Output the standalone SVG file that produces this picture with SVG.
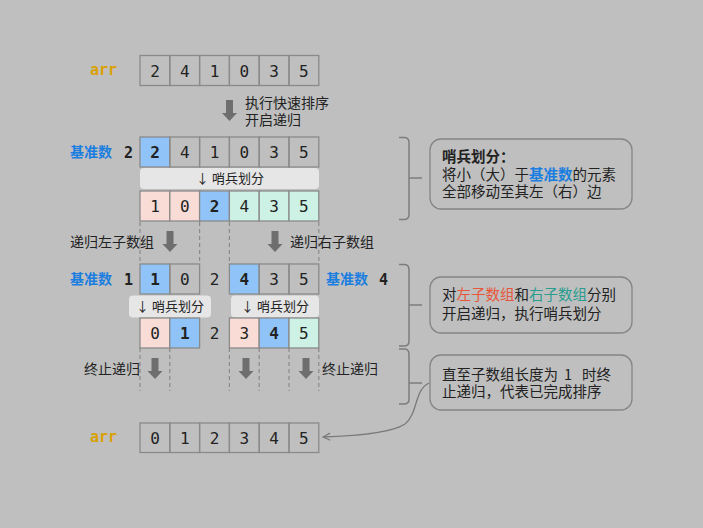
<svg xmlns="http://www.w3.org/2000/svg" width="703" height="528" viewBox="0 0 703 528">
<defs>
<style>
.bg{fill:#bfbfbf}
.c{fill:none;stroke:#8a8a8a;stroke-width:1.3}
.cb{fill:#90c4f8;stroke:#8a8a8a;stroke-width:1.3}
.cp{fill:#f9dcd6;stroke:#8a8a8a;stroke-width:1.3}
.cm{fill:#cdf1e5;stroke:#8a8a8a;stroke-width:1.3}
.n{font-family:"DejaVu Sans Mono","Liberation Mono",monospace;font-size:16px;fill:#222;text-anchor:middle}
.nb{font-weight:bold}
.arr{font-family:"DejaVu Sans Mono","Liberation Mono",monospace;font-size:15px;font-weight:bold;fill:#d9a100}
.t{font-family:"Noto Sans CJK SC","Noto Sans",sans-serif;font-size:14px;fill:#222}
.lbl{font-family:"Noto Sans CJK SC","Noto Sans",sans-serif;font-size:14px;font-weight:bold;fill:#1a7ee0}
.pv{font-family:"DejaVu Sans Mono","Liberation Mono",monospace;font-size:15px;font-weight:bold;fill:#222}
.bar{fill:#e6e6e6}
.bt{font-family:"Noto Sans CJK SC","Noto Sans",sans-serif;font-size:13px;fill:#222;text-anchor:middle}
.dash{stroke:#8a8a8a;stroke-width:1.2;stroke-dasharray:4 3;fill:none}
.big{fill:#6e6e6e}
.br{fill:none;stroke:#7d7d7d;stroke-width:1.5}
.co{fill:none;stroke:#858585;stroke-width:1.3}
.ct{font-family:"Noto Sans CJK SC","Noto Sans",sans-serif;font-size:14.5px;fill:#222}
.blue{fill:#1a7ee0}
.red{fill:#e8553a}
.teal{fill:#2a9d8f}
</style>
<marker id="ah" viewBox="0 0 10 10" refX="9" refY="5" markerWidth="9" markerHeight="9" orient="auto" markerUnits="userSpaceOnUse">
<path d="M1,1 L9,5 L1,9" fill="none" stroke="#7a7a7a" stroke-width="1.3"/>
</marker>
<path id="bigArrow" d="M-3.5,0 H3.5 V13 H7.5 L0,21 L-7.5,13 H-3.5 Z"/>
</defs>
<rect class="bg" x="0" y="0" width="703" height="528"/>

<g id="connectors">
<g class="dash">
<path d="M140,222 V264 M199.6,222 V264 M229.4,222 V264 M318.8,222 V264"/>
<path d="M140,348 V391 M169.8,348 V391 M229.4,348 V391 M259.2,348 V391 M289,348 V391 M318.8,348 V391"/>
</g>
<use href="#bigArrow" class="big" x="229.5" y="100"/>
<use href="#bigArrow" class="big" x="170" y="231"/>
<use href="#bigArrow" class="big" x="275" y="231"/>
<use href="#bigArrow" class="big" x="155" y="358"/>
<use href="#bigArrow" class="big" x="246" y="358"/>
<use href="#bigArrow" class="big" x="306" y="358"/>
<path class="br" d="M399,137.5 H404 Q409,137.5 409,142.5 V214.5 Q409,219.5 404,219.5 H399 M409,178 H422"/>
<path class="br" d="M399,264.5 H404 Q409,264.5 409,269.5 V341 Q409,346 404,346 H399 M409,305 H422"/>
<path class="br" d="M399,349 H404 Q409,349 409,354 V399 Q409,404 404,404 H399 M409,383 H422"/>
<path d="M429,383 C414,390 418,414 405,424 C390,434 350,436 323,437" fill="none" stroke="#7a7a7a" stroke-width="1.3" marker-end="url(#ah)"/>
</g>

<g id="arr-initial">
<text class="arr" x="90" y="75">arr</text>
<rect class="c" x="140" y="55.5" width="29.8" height="30"/>
<rect class="c" x="169.8" y="55.5" width="29.8" height="30"/>
<rect class="c" x="199.6" y="55.5" width="29.8" height="30"/>
<rect class="c" x="229.4" y="55.5" width="29.8" height="30"/>
<rect class="c" x="259.2" y="55.5" width="29.8" height="30"/>
<rect class="c" x="289" y="55.5" width="29.8" height="30"/>
<text class="n" x="155" y="76.5">2</text>
<text class="n" x="184.7" y="76.5">4</text>
<text class="n" x="214.5" y="76.5">1</text>
<text class="n" x="244.3" y="76.5">0</text>
<text class="n" x="274.1" y="76.5">3</text>
<text class="n" x="303.9" y="76.5">5</text>
</g>

<g id="step-start">
<text class="t" x="245" y="108">执行快速排序</text>
<text class="t" x="245" y="125">开启递归</text>
</g>

<g id="row-pivot2">
<text class="lbl" x="70" y="157">基准数</text>
<text class="pv" x="124" y="157.5">2</text>
<rect class="cb" x="140" y="137" width="29.8" height="30"/>
<rect class="c" x="169.8" y="137" width="29.8" height="30"/>
<rect class="c" x="199.6" y="137" width="29.8" height="30"/>
<rect class="c" x="229.4" y="137" width="29.8" height="30"/>
<rect class="c" x="259.2" y="137" width="29.8" height="30"/>
<rect class="c" x="289" y="137" width="29.8" height="30"/>
<text class="n nb" x="155" y="158">2</text>
<text class="n" x="184.7" y="158">4</text>
<text class="n" x="214.5" y="158">1</text>
<text class="n" x="244.3" y="158">0</text>
<text class="n" x="274.1" y="158">3</text>
<text class="n" x="303.9" y="158">5</text>
</g>

<g id="partition-1">
<rect class="bar" x="140" y="168" width="179" height="21" rx="4"/>
<text class="bt" x="230" y="183">↓ 哨兵划分</text>
</g>

<g id="row-partitioned">
<rect class="cp" x="140" y="191" width="29.8" height="30"/>
<rect class="cp" x="169.8" y="191" width="29.8" height="30"/>
<rect class="cb" x="199.6" y="191" width="29.8" height="30"/>
<rect class="cm" x="229.4" y="191" width="29.8" height="30"/>
<rect class="cm" x="259.2" y="191" width="29.8" height="30"/>
<rect class="cm" x="289" y="191" width="29.8" height="30"/>
<text class="n" x="155" y="212">1</text>
<text class="n" x="184.7" y="212">0</text>
<text class="n nb" x="214.5" y="212">2</text>
<text class="n" x="244.3" y="212">4</text>
<text class="n" x="274.1" y="212">3</text>
<text class="n" x="303.9" y="212">5</text>
</g>

<g id="recurse-labels">
<text class="t" x="70" y="247">递归左子数组</text>
<text class="t" x="290" y="247">递归右子数组</text>
</g>

<g id="row-sub">
<text class="lbl" x="70" y="284">基准数</text>
<text class="pv" x="124" y="284.5">1</text>
<rect class="cb" x="140" y="264" width="29.8" height="30"/>
<rect class="c" x="169.8" y="264" width="29.8" height="30"/>
<text class="n" x="214.5" y="285">2</text>
<rect class="cb" x="229.4" y="264" width="29.8" height="30"/>
<rect class="c" x="259.2" y="264" width="29.8" height="30"/>
<rect class="c" x="289" y="264" width="29.8" height="30"/>
<text class="n nb" x="155" y="285">1</text>
<text class="n" x="184.7" y="285">0</text>
<text class="n nb" x="244.3" y="285">4</text>
<text class="n" x="274.1" y="285">3</text>
<text class="n" x="303.9" y="285">5</text>
<text class="lbl" x="326" y="284">基准数</text>
<text class="pv" x="379" y="284.5">4</text>
</g>

<g id="partition-2">
<rect class="bar" x="129" y="295.5" width="82" height="22" rx="4"/>
<text class="bt" x="170" y="311">↓ 哨兵划分</text>
<rect class="bar" x="231" y="295.5" width="88" height="22" rx="4"/>
<text class="bt" x="275" y="311">↓ 哨兵划分</text>
</g>

<g id="row-sub-partitioned">
<rect class="cp" x="140" y="318" width="29.8" height="30"/>
<rect class="cb" x="169.8" y="318" width="29.8" height="30"/>
<text class="n" x="214.5" y="339">2</text>
<rect class="cp" x="229.4" y="318" width="29.8" height="30"/>
<rect class="cb" x="259.2" y="318" width="29.8" height="30"/>
<rect class="cm" x="289" y="318" width="29.8" height="30"/>
<text class="n" x="155" y="339">0</text>
<text class="n nb" x="184.7" y="339">1</text>
<text class="n" x="244.3" y="339">3</text>
<text class="n nb" x="274.1" y="339">4</text>
<text class="n" x="303.9" y="339">5</text>
</g>

<g id="stop-labels">
<text class="t" x="84" y="374">终止递归</text>
<text class="t" x="322" y="374">终止递归</text>
</g>

<g id="arr-final">
<text class="arr" x="90" y="442">arr</text>
<rect class="c" x="140" y="423" width="29.8" height="29.5"/>
<rect class="c" x="169.8" y="423" width="29.8" height="29.5"/>
<rect class="c" x="199.6" y="423" width="29.8" height="29.5"/>
<rect class="c" x="229.4" y="423" width="29.8" height="29.5"/>
<rect class="c" x="259.2" y="423" width="29.8" height="29.5"/>
<rect class="c" x="289" y="423" width="29.8" height="29.5"/>
<text class="n" x="155" y="443.5">0</text>
<text class="n" x="184.7" y="443.5">1</text>
<text class="n" x="214.5" y="443.5">2</text>
<text class="n" x="244.3" y="443.5">3</text>
<text class="n" x="274.1" y="443.5">4</text>
<text class="n" x="303.9" y="443.5">5</text>
</g>

<g id="note-partition">
<rect class="co" x="430" y="139" width="202" height="70" rx="11"/>
<text class="ct" x="442" y="162" font-weight="bold">哨兵划分：</text>
<text class="ct" x="442" y="179.5">将小（大）于<tspan class="blue" font-weight="bold">基准数</tspan>的元素</text>
<text class="ct" x="442" y="197">全部移动至其左（右）边</text>
</g>

<g id="note-recurse">
<rect class="co" x="430" y="277" width="202" height="56" rx="11"/>
<text class="ct" x="442" y="300">对<tspan class="red">左子数组</tspan>和<tspan class="teal">右子数组</tspan>分别</text>
<text class="ct" x="442" y="319">开启递归，执行哨兵划分</text>
</g>

<g id="note-stop">
<rect class="co" x="430" y="355" width="202" height="55" rx="11"/>
<text class="ct" x="442" y="379.5">直至子数组长度为<tspan x="564">1</tspan><tspan x="582">时终</tspan></text>
<text class="ct" x="442" y="397">止递归，代表已完成排序</text>
</g>
</svg>
